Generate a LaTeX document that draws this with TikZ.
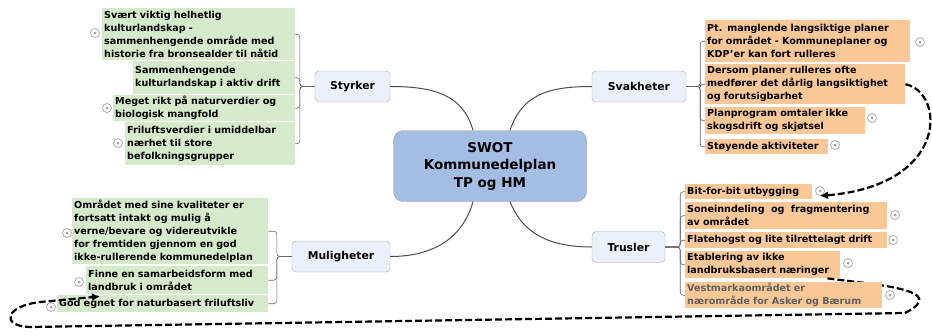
\documentclass[tikz,border=0pt]{standalone}
\usepackage{fontspec}
\setmainfont{DejaVu Sans}
\usetikzlibrary{arrows.meta}
\definecolor{coreblue}{HTML}{A4BDE4}
\definecolor{branchblue}{HTML}{EAF1FA}
\definecolor{progreen}{HTML}{D5EACB}
\definecolor{conorange}{HTML}{FAC797}
\pgfdeclarelayer{front}
\pgfsetlayers{main,front}

\begin{document}
\begin{tikzpicture}[x = 1pt, y = -1pt,
    core/.style = {draw = gray!80, fill = coreblue, rounded corners = 10pt,
      minimum width = 193pt, minimum height = 71pt, align = center,
      font = \fontsize{13.5}{17.5}\selectfont\bfseries},
    branch/.style = {draw = gray!70, fill = branchblue, rounded corners = 4pt,
      minimum height = 31pt, font = \fontsize{10.8}{13}\selectfont\bfseries},
    item/.style = {anchor = north west, inner xsep = 2pt, inner ysep = 0pt,
      align = left, font = \fontsize{9.6}{13}\selectfont\bfseries},
    pro/.style = {item, fill = progreen},
    con/.style = {item, fill = conorange},
    fold/.style = {circle, draw = gray!65, fill = white, inner sep = 0pt,
      minimum size = 9pt, line width = .8pt,
      path picture = {\fill [gray!75] (path picture bounding box.center) circle (1.5pt);}},
    limb/.style = {draw = black!70, line width = 1pt},
    twig/.style = {draw = black!60, line width = .6pt, rounded corners = 3pt},
    relation/.style = {draw = black, line width = 2.2pt,
      dash pattern = on 7pt off 3pt, -{Latex[length = 8pt, width = 8pt]}}]
    \useasboundingbox (0,0) rectangle (932,335);

    \node [core] (swot) at (490,166) {SWOT\\Kommunedelplan\\TP og HM};
    \node [branch, minimum width = 75pt] (styrker) at (352.5,86.5) {Styrker};
    \node [branch, minimum width = 94pt] (svakheter) at (639,86.5) {Svakheter};
    \node [branch, minimum width = 98pt] (muligheter) at (341,256.5) {Muligheter};
    \node [branch, minimum width = 73pt] (trusler) at (628.5,247) {Trusler};

    \node [pro, text width = 189pt, minimum height = 52pt] (str1) at (102,8)
      {Svært viktig helhetlig\\kulturlandskap -\\sammenhengende område med\\historie fra bronsealder til nåtid};
    \node [pro, text width = 158pt, minimum height = 33pt] (str2) at (133,61)
      {Sammenhengende\\kulturlandskap i aktiv drift};
    \node [pro, text width = 178pt, minimum height = 26pt] (str3) at (113,95)
      {Meget rikt på naturverdier og\\biologisk mangfold};
    \node [pro, text width = 166pt, minimum height = 43pt] (str4) at (125,122)
      {Friluftsverdier i umiddelbar\\nærhet til store\\befolkningsgrupper};

    \node [pro, text width = 192pt, minimum height = 66pt] (mul1) at (72,198)
      {Området med sine kvaliteter er\\fortsatt intakt og mulig å\\verne/bevare og videreutvikle\\for fremtiden gjennom en god\\ikke-rullerende kommunedelplan};
    \node [pro, text width = 178pt, minimum height = 28pt] (mul2) at (86,266)
      {Finne en samarbeidsform med\\landbruk i området};
    \node [pro, text width = 207pt, minimum height = 17pt] (mul3) at (57,295)
      {God egnet for naturbasert friluftsliv};

    \node [con, text width = 201pt, minimum height = 42pt] (svk1) at (705,20)
      {Pt. manglende langsiktige planer\\for området - Kommuneplaner og\\KDP'er kan fort rulleres};
    \node [con, text width = 196pt, minimum height = 40pt] (svk2) at (705,64)
      {Dersom planer rulleres ofte\\medfører det dårlig langsiktighet\\og forutsigbarhet};
    \node [con, text width = 156pt, minimum height = 27pt] (svk3) at (705,107)
      {Planprogram omtaler ikke\\skogsdrift og skjøtsel};
    \node [con, text width = 119pt, minimum height = 15pt] (svk4) at (705,139)
      {Støyende aktiviteter};

    \node [con, text width = 123pt, minimum height = 15pt] (tru1) at (685,184)
      {Bit-for-bit utbygging};
    \node [con, text width = 198pt, minimum height = 27pt] (tru2) at (685,202)
      {Soneinndeling~~og~~fragmentering\\av området};
    \node [con, text width = 198pt, minimum height = 16pt] (tru3) at (685,232)
      {Flatehogst og lite tilrettelagt drift};
    \node [con, text width = 151pt, minimum height = 27pt] (tru4) at (685,251)
      {Etablering av ikke\\landbruksbasert næringer};
    \begin{pgfonlayer}{front}
      \node [con, text width = 193pt, minimum height = 26pt, text = gray!75!black] (tru5) at (685,282)
        {Vestmarkaområdet er\\nærområde for Asker og Bærum};
      \node [fold] (tru5f) at (890,295) {};
    \end{pgfonlayer}

    \node [fold] (str1f) at (95,33) {};
    \node [fold] (str3f) at (107,108) {};
    \node [fold] (str4f) at (118,143) {};
    \node [fold] (mul1f) at (67,233) {};
    \node [fold] (mul2f) at (79,282) {};
    \node [fold] (mul3f) at (51,307) {};
    \node [fold] (svk1f) at (920,42) {};
    \node [fold] (svk3f) at (872,118) {};
    \node [fold] (svk4f) at (835,145) {};
    \node [fold] (tru1f) at (820,191) {};
    \node [fold] (tru2f) at (895,215) {};
    \node [fold] (tru3f) at (893,240) {};
    \node [fold] (tru4f) at (848,263) {};

    \draw [limb] ([xshift=-17pt]swot.north) .. controls +(-10,-35) and +(45,0) .. (styrker.east);
    \draw [limb] ([xshift=20pt]swot.north) .. controls +(12,-35) and +(-45,0) .. (svakheter.west);
    \draw [limb] ([xshift=-17pt]swot.south) .. controls +(-10,35) and +(45,0) .. (muligheter.east);
    \draw [limb] ([xshift=20pt]swot.south) .. controls +(12,30) and +(-45,0) .. (trusler.west);

    \foreach \n in {str1,str2,str3,str4}
      \draw [twig] (styrker.west) -- ++(-15,0) |- (\n.east);
    \foreach \n in {mul1,mul2,mul3}
      \draw [twig] (muligheter.west) -- ++(-15,0) |- (\n.east);
    \foreach \n in {svk1,svk2,svk3,svk4}
      \draw [twig] (svakheter.east) -- ++(14,0) |- (\n.west);
    \foreach \n in {tru1,tru2,tru3,tru4,tru5}
      \draw [twig] (trusler.east) -- ++(15,0) |- (\n.west);

    \draw [relation] (svk2.east) .. controls (945,92) and (950,185) .. (tru1f.south);
    \draw [relation] ([xshift=-13pt]tru4.south east)
      .. controls (880,285) and (950,290) .. (905,313) -- (30,327)
      .. controls (0,326) and (5,306) .. (40,302)
      -- ([xshift=14pt,yshift=-2pt]mul2.south west);
  \end{tikzpicture}
\end{document}
